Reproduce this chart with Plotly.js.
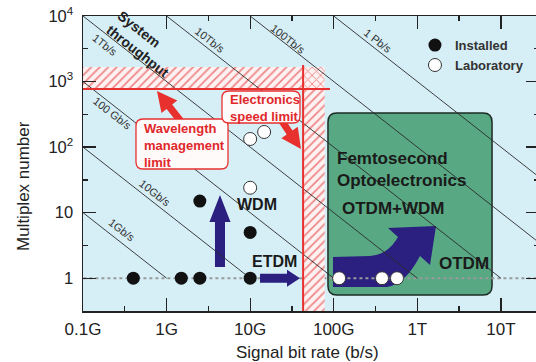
<!DOCTYPE html>
<html><head><meta charset="utf-8">
<script src="https://cdn.plot.ly/plotly-3.0.1.min.js"></script>
<style>html,body{margin:0;padding:0;overflow:hidden;background:#fff}#chart{width:540px;height:362px}</style>
</head><body><div id="chart"></div>
<script>
// ---------- data ----------
const rateTickVals = [1e8, 1e9, 1e10, 1e11, 1e12, 1e13];
const rateTickText = ['0.1G', '1G', '10G', '100G', '1T', '10T'];
const muxTickVals = [1, 10, 100, 1000, 10000];
const muxTickText = ['1', '10', '10<sup>2</sup>', '10<sup>3</sup>', '10<sup>4</sup>'];
const throughputs = [1e9, 1e10, 1e11, 1e12, 1e13, 1e14, 1e15];
const throughputLabels = ['1Gb/s', '10Gb/s', '100 Gb/s', '1Tb/s', '10Tb/s', '100Tb/s', '1 Pb/s'];
const installedRate = [0.4e9, 1.5e9, 2.5e9, 10e9, 2.5e9, 10e9];
const installedMux = [1, 1, 1, 1, 15, 5];
const labRate = [10e9, 14.7e9, 10e9, 116e9, 378e9, 571e9];
const labMux = [133, 170, 24, 1, 1, 1];
const wavelengthLimit = 770;      // multiplex number
const wavelengthBandTop = 1670;
const electronicsLimit = 43e9;    // b/s
const electronicsBandEnd = 78e9;
const baselineMux = 1;

// ---------- layout helpers (axis units = log10) ----------
const XR = [8, 13.456], YR = [-0.5, 4];
const PX = 456 / (XR[1] - XR[0]), PY = 295 / (YR[1] - YR[0]);
function rrect(x0, y0, x1, y1, r) {
  const rx = r / PX, ry = r / PY;
  return `M${x0 + rx},${y0} L${x1 - rx},${y0} Q${x1},${y0} ${x1},${y0 + ry} L${x1},${y1 - ry} Q${x1},${y1} ${x1 - rx},${y1} L${x0 + rx},${y1} Q${x0},${y1} ${x0},${y1 - ry} L${x0},${y0 + ry} Q${x0},${y0} ${x0 + rx},${y0} Z`;
}
const RED = '#e8302e', PURPLE = '#2b1f80', GREEN = '#58a883';
const FONT = 'Liberation Sans, Arial, sans-serif';

// ---------- traces ----------
const hatch = (x, y, shape) => ({
  x, y, type: 'scatter', mode: 'lines', fill: 'toself', line: {width: 0, color: 'rgba(0,0,0,0)'},
  fillcolor: '#fdf1f1',
  fillpattern: {shape, fgcolor: '#ee8585', bgcolor: '#fdf1f1', size: 6, solidity: 0.28},
  hoverinfo: 'skip', showlegend: false
});
const lineX = [], lineY = [];
throughputs.forEach(c => { lineX.push(c / 1e4, c, null); lineY.push(1e4, 1, null); });

const traces = [
  hatch([1e6, electronicsLimit, electronicsLimit, 1e6], [wavelengthLimit, wavelengthLimit, wavelengthBandTop, wavelengthBandTop], '/'),
  hatch([electronicsLimit, electronicsBandEnd, electronicsBandEnd, electronicsLimit], [0.01, 0.01, wavelengthLimit, wavelengthLimit], '/'),
  hatch([electronicsLimit, electronicsBandEnd, electronicsBandEnd, electronicsLimit], [wavelengthLimit, wavelengthLimit, wavelengthBandTop, wavelengthBandTop], 'x'),
  {x: lineX, y: lineY, type: 'scatter', mode: 'lines', line: {color: '#2a2a2a', width: 0.9}, hoverinfo: 'skip', showlegend: false},
  {x: installedRate, y: installedMux, type: 'scatter', mode: 'markers', name: 'Installed',
   marker: {size: 13, color: '#111', line: {width: 0}}},
  {x: labRate, y: labMux, type: 'scatter', mode: 'markers', name: 'Laboratory',
   marker: {size: 13, color: '#fff', line: {width: 1, color: '#333'}}},
  {x: [9], y: [0], xaxis: 'x2', yaxis: 'y2', type: 'scatter', mode: 'markers', marker: {opacity: 0}, hoverinfo: 'skip', showlegend: false}
];

// ---------- decorations ----------
const shapes = [
  // green femtosecond box
  {type: 'path', xref: 'x2', yref: 'y2', layer: 'below', path: rrect(10.931, -0.256, 12.894, 2.520, 9),
   fillcolor: GREEN, line: {color: '#1e2b24', width: 1.5}},
  // OTDM+WDM curved arrow
  {type: 'path', xref: 'x2', yref: 'y2', layer: 'below', fillcolor: PURPLE, line: {width: 0},
   path: 'M10.991,-0.134 L10.991,0.324 L11.434,0.339 Q11.65,0.36 11.769,0.629 L11.649,0.766 L12.224,0.797 L12.152,0.202 L12.032,0.339 Q11.85,-0.10 11.637,-0.134 Z'},
  // single-channel baseline (multiplex number = 1)
  {type: 'line', xref: 'x2', yref: 'y2', layer: 'below', x0: 7, x1: 15, y0: Math.log10(baselineMux), y1: Math.log10(baselineMux),
   line: {color: '#9a9a9a', width: 2, dash: 'dot'}},
  // WDM arrow
  {type: 'path', xref: 'x2', yref: 'y2', layer: 'below', fillcolor: PURPLE, line: {width: 0},
   path: 'M9.579,0.171 L9.699,0.171 L9.699,0.858 L9.765,0.858 L9.639,1.270 L9.513,0.858 L9.579,0.858 Z'},
  // ETDM arrow
  {type: 'path', xref: 'x2', yref: 'y2', layer: 'below', fillcolor: PURPLE, line: {width: 0},
   path: 'M10.118,-0.069 L10.441,-0.069 L10.441,-0.13 L10.596,0 L10.441,0.13 L10.441,0.069 L10.118,0.069 Z'},
  // red limit lines
  {type: 'line', xref: 'x2', yref: 'y2', layer: 'above', x0: 8, x1: 10.955, y0: Math.log10(wavelengthLimit), y1: Math.log10(wavelengthLimit), line: {color: RED, width: 2}},
  {type: 'line', xref: 'x2', yref: 'y2', layer: 'above', x0: Math.log10(electronicsLimit), x1: Math.log10(electronicsLimit), y0: 3.253, y1: -0.5, line: {color: RED, width: 2}},
  // red arrows (pixel-sized, anchored at tip)
  {type: 'path', xref: 'x2', yref: 'y2', layer: 'above', xsizemode: 'pixel', ysizemode: 'pixel', xanchor: 8.885, yanchor: 2.856,
   path: 'M0,0 L20.3,-9.5 L15.2,-13.5 L28.8,-30.8 L23.2,-35.2 L9.6,-17.9 L4.5,-21.9 Z', fillcolor: RED, line: {width: 0}},
  {type: 'path', xref: 'x2', yref: 'y2', layer: 'above', xsizemode: 'pixel', ysizemode: 'pixel', xanchor: 10.608, yanchor: 1.971,
   path: 'M0,0 L-3.2,22.2 L-8.5,18.5 L-18.1,33 L-23.9,29 L-14.3,14.5 L-19.6,10.8 Z', fillcolor: RED, line: {width: 0}},
  // red text boxes
  {type: 'path', xref: 'x2', yref: 'y2', layer: 'above', path: rrect(8.634, 1.666, 9.735, 2.429, 7), fillcolor: '#fffafa', line: {color: RED, width: 1.3}},
  {type: 'path', xref: 'x2', yref: 'y2', layer: 'above', path: rrect(9.663, 2.368, 10.596, 2.856, 7), fillcolor: '#fffafa', line: {color: RED, width: 1.3}}
];

const labelPos = [[8.467, 0.736], [8.861, 1.300], [8.347, 2.520], [8.263, 3.558], [9.519, 3.634], [10.453, 3.649], [11.530, 3.619]];
const ann = (text, x, y, o) => Object.assign({text, x, y, xref: 'x2', yref: 'y2', showarrow: false, xanchor: 'left', yanchor: 'middle',
  font: {family: FONT, size: 17, color: '#1a1a1a', weight: 700}}, o || {});
const annotations = throughputLabels.map((t, i) => ann(t, labelPos[i][0], labelPos[i][1],
  {xanchor: 'center', textangle: 38, font: {family: FONT, size: 11, color: '#333'}}));
annotations.push(
  ann('System<br>throughput', 8.724, 3.573, {xanchor: 'center', align: 'left', textangle: 38, font: {family: FONT, size: 14, color: '#222', weight: 700}}),
  ann('Wavelength<br>management<br>limit', 8.706, 2.032, {align: 'left', font: {family: FONT, size: 13, color: '#e0282b', weight: 700}}),
  ann('Electronics<br>speed limit', 9.735, 2.597, {align: 'left', font: {family: FONT, size: 13, color: '#e0282b', weight: 700}}),
  ann('Femtosecond<br>Optoelectronics', 11.015, 1.651, {align: 'left'}),
  ann('OTDM+WDM', 11.075, 1.071),
  ann('OTDM', 12.235, 0.232),
  ann('WDM', 9.819, 1.132, {font: {family: FONT, size: 16, color: '#1a1a1a', weight: 700}}),
  ann('ETDM', 9.998, 0.248, {font: {family: FONT, size: 16, color: '#1a1a1a', weight: 700}}),
  {text: 'Multiplex number', xref: 'paper', yref: 'paper', x: -0.1316, y: 0.4237, textangle: -90, showarrow: false,
   xanchor: 'center', yanchor: 'middle', font: {family: FONT, size: 17, color: '#222'}},
  {text: 'Signal bit rate (b/s)', xref: 'paper', yref: 'paper', x: 0.4923, y: -0.139, showarrow: false,
   xanchor: 'center', yanchor: 'middle', font: {family: FONT, size: 17, color: '#222'}}
);

const axisCommon = {showgrid: false, zeroline: false, showline: true, linecolor: '#222', linewidth: 1.5,
  mirror: 'ticks', ticks: 'inside', tickcolor: '#222', tickwidth: 1.3, ticklen: 13};

const layout = {
  width: 540, height: 362,
  margin: {l: 83, r: 1, t: 16, b: 51},
  paper_bgcolor: '#fff', plot_bgcolor: '#d6eff7',
  font: {family: FONT, color: '#222'},
  xaxis: Object.assign({}, axisCommon, {type: 'log', range: XR, tickmode: 'array', tickvals: rateTickVals, ticktext: rateTickText,
    tickfont: {size: 17, color: '#222'}, ticklabelstandoff: 2,
    minor: {tickvals: [3.162e8, 3.162e9, 3.162e10, 3.162e11, 3.162e12], ticks: 'inside', ticklen: 5, tickcolor: '#222', tickwidth: 1.3}}),
  yaxis: Object.assign({}, axisCommon, {type: 'log', range: YR, tickmode: 'array', tickvals: muxTickVals, ticktext: muxTickText,
    tickfont: {size: 16.5, color: '#222'}, ticklabelstandoff: 5,
    minor: {tickvals: [3.162, 31.62, 316.2, 3162], ticks: 'inside', ticklen: 5, tickcolor: '#222', tickwidth: 1.3}}),
  xaxis2: {overlaying: 'x', anchor: 'y2', range: XR, visible: false, fixedrange: true},
  yaxis2: {overlaying: 'y', anchor: 'x2', range: YR, visible: false, fixedrange: true},
  showlegend: true,
  legend: {x: 0.728, xanchor: 'left', y: 0.952, yanchor: 'top', bgcolor: 'rgba(0,0,0,0)', tracegroupgap: 0,
    font: {family: FONT, size: 13, color: '#333', weight: 700}},
  shapes, annotations
};

Plotly.newPlot('chart', traces, layout, {displayModeBar: false, staticPlot: true});
</script></body></html>
